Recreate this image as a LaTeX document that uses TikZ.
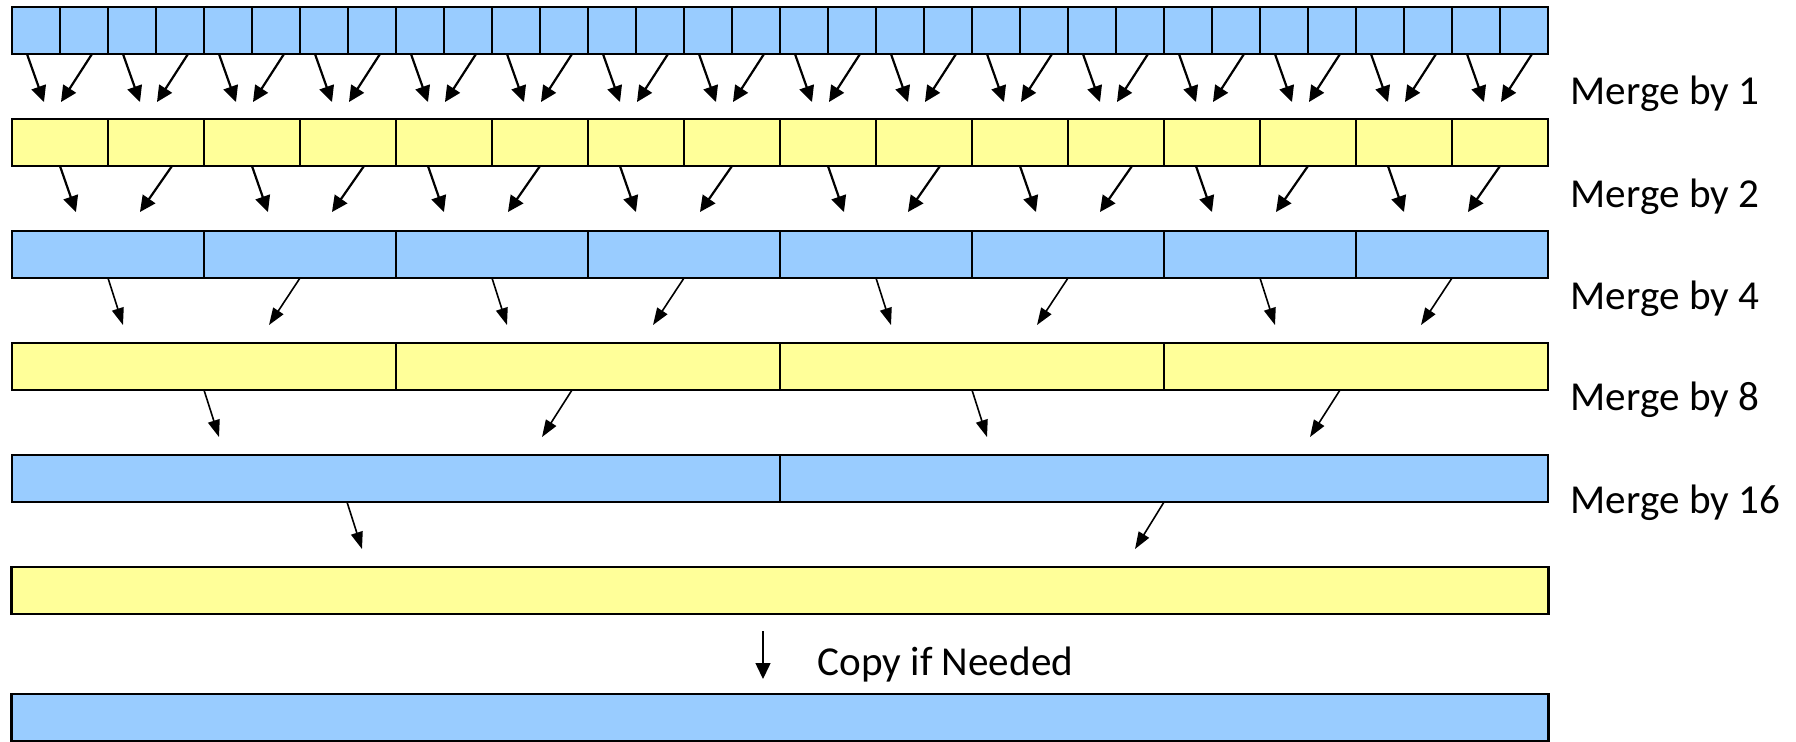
\documentclass[tikz,border=0pt]{standalone}
\usepackage{fontspec}
\setmainfont{Carlito}
\usetikzlibrary{calc,arrows.meta}
\definecolor{cellblue}{HTML}{99CCFF}
\definecolor{cellyellow}{HTML}{FFFF99}
\tikzstyle{cell}=[shape=rectangle, draw=black, line width=0.022cm, inner sep=0, outer sep=0, minimum height=0.47cm]
\tikzstyle{mrg}=[line width=0.022cm, -{Triangle[length=0.16cm,width=0.15cm]}]
\tikzstyle{mrgthin}=[line width=0.016cm, -{Triangle[length=0.17cm,width=0.12cm]}]
\tikzstyle{lbl}=[anchor=base west, inner sep=0, font=\fontsize{11.7}{14}\selectfont]

\begin{document}
\begin{tikzpicture}[x=0.01cm, y=-0.01cm]
\useasboundingbox (0,0) rectangle (1796,741);
%
\foreach \row/\cnt/\ytop/\col in {1/32/7/cellblue, 2/16/119/cellyellow, 3/8/231/cellblue, 4/4/343/cellyellow, 5/2/455/cellblue, 6/1/567/cellyellow, 7/1/694/cellblue}
    {
    \pgfmathsetmacro{\w}{1536/\cnt}
    \foreach \i in {1,...,\cnt}
	\node[cell, fill=\col, minimum width=\w*0.1mm] (r\row-\i) at (12+\w*\i-\w/2, \ytop+23.5) {};
    }
%
\foreach \k in {0,...,15}
    {
    \pgfmathtruncatemacro{\lc}{2*\k+1}
    \pgfmathtruncatemacro{\rc}{2*\k+2}
    \draw[mrg] ($(r1-\lc.south west)+(15,0)$) -- ++(17,48);
    \draw[mrg] ($(r1-\rc.south west)+(32,0)$) -- ++(-31,48);
    }
%
\foreach \k/\lo/\ro in {0/48/64, 1/48/64, 2/32/48, 3/32/48, 4/48/64, 5/48/64, 6/32/48, 7/32/48}
    {
    \pgfmathtruncatemacro{\lc}{2*\k+1}
    \pgfmathtruncatemacro{\rc}{2*\k+2}
    \draw[mrg] ($(r2-\lc.south west)+(\lo,0)$) -- ++(16,46);
    \draw[mrg] ($(r2-\rc.south west)+(\ro,0)$) -- ++(-32,46);
    }
%
\foreach \k in {0,...,3}
    {
    \pgfmathtruncatemacro{\lc}{2*\k+1}
    \pgfmathtruncatemacro{\rc}{2*\k+2}
    \draw[mrgthin] (r3-\lc.south) -- ++(15,47);
    \draw[mrgthin] (r3-\rc.south) -- ++(-31,47);
    }
%
\foreach \k in {0,1}
    {
    \pgfmathtruncatemacro{\lc}{2*\k+1}
    \pgfmathtruncatemacro{\rc}{2*\k+2}
    \draw[mrgthin] (r4-\lc.south) -- ++(15,47);
    \draw[mrgthin] ($(r4-\rc.south)+(-16,0)$) -- ++(-30,47);
    }
%
\draw[mrgthin] ($(r5-1.south)+(-49,0)$) -- ++(15,47);
\draw[mrgthin] (r5-2.south) -- ++(-29,47);
%
\foreach \k/\yb in {1/104, 2/207, 4/309, 8/410, 16/513}
    \node[lbl] (m\k) at (1570,\yb) {Merge by \k};
%
\node[lbl] (copy) at (817,675) {Copy if Needed};
\draw[line width=0.014cm, -{Triangle[length=0.16cm,width=0.15cm]}] ($(r6-1.south)+(-17,17)$) -- ++(0,48);
\end{tikzpicture}
\end{document}
